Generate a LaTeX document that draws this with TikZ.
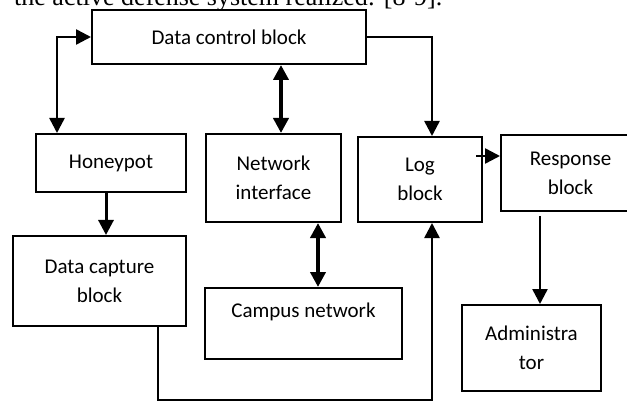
\documentclass[tikz,border=0pt]{standalone}
\usepackage{fontspec}
\setmainfont{Carlito}
\newfontfamily\paperfont{Liberation Serif}
\usetikzlibrary{arrows.meta}

\begin{document}
\begin{tikzpicture}[x=1pt, y=-1pt,
    block/.style={draw, rectangle, line width=2pt, align=center, inner sep=0pt, font=\fontsize{21}{29}\selectfont},
    link/.style={line width=2.5pt, -{Triangle[length=15pt,width=15pt]}},
    duplex/.style={line width=2.5pt, {Triangle[length=15pt,width=15pt]}-{Triangle[length=15pt,width=15pt]}},
    heavy/.style={duplex, line width=4pt}]
    \path[clip] (0,0) rectangle (627,401);
    \node[anchor=base west, inner sep=0pt, font=\paperfont\fontsize{26}{30}\selectfont] (caption) at (14,6) {the active defense system realized: [8-9].};
    \node[block, minimum width=274pt, minimum height=54pt] (dcb) at (229,37) {Data control block};
    \node[block, minimum width=150pt, minimum height=58pt] (hp) at (111,163) {Honeypot};
    \node[block, minimum width=135pt, minimum height=88pt] (ni) at (273.5,178) {Network\\interface};
    \node[block, minimum width=124pt, minimum height=85pt] (log) at (420,179.5) {Log\\block};
    \node[block, minimum width=139pt, minimum height=76pt] (resp) at (570.5,173) {Response\\block};
    \node[block, minimum width=173pt, minimum height=90pt] (dc) at (99.5,281) {Data capture\\block};
    \node[block, minimum width=197pt, minimum height=71pt, text height=15pt, text depth=27pt] (cn) at (303.5,323.5) {Campus network};
    \node[block, minimum width=139pt, minimum height=86pt] (admin) at (531.5,348) {Administra\\tor};
    \draw[duplex] (dcb.west) -| ([xshift=22pt]hp.north west);
    \draw[heavy] ([xshift=7.5pt]ni.north |- dcb.south) -- ([xshift=7.5pt]ni.north);
    \draw[link] (dcb.east) -| ([xshift=12pt]log.north);
    \draw[link] ([xshift=-24pt,yshift=17pt]resp.west) -- ([yshift=17pt]resp.west);
    \draw[link, line width=3pt] ([xshift=-5pt]hp.south) -- ([xshift=-5pt]hp.south |- dc.north);
    \draw[heavy] ([xshift=14.5pt]cn.north |- ni.south) -- ([xshift=14.5pt]cn.north);
    \draw[link] ([xshift=58.5pt]dc.south) -- ++(0,73) -| ([xshift=12pt]log.south);
    \draw[link] ([xshift=8.5pt,yshift=-4pt]admin.north |- resp.south) -- ([xshift=8.5pt]admin.north);
\end{tikzpicture}
\end{document}
